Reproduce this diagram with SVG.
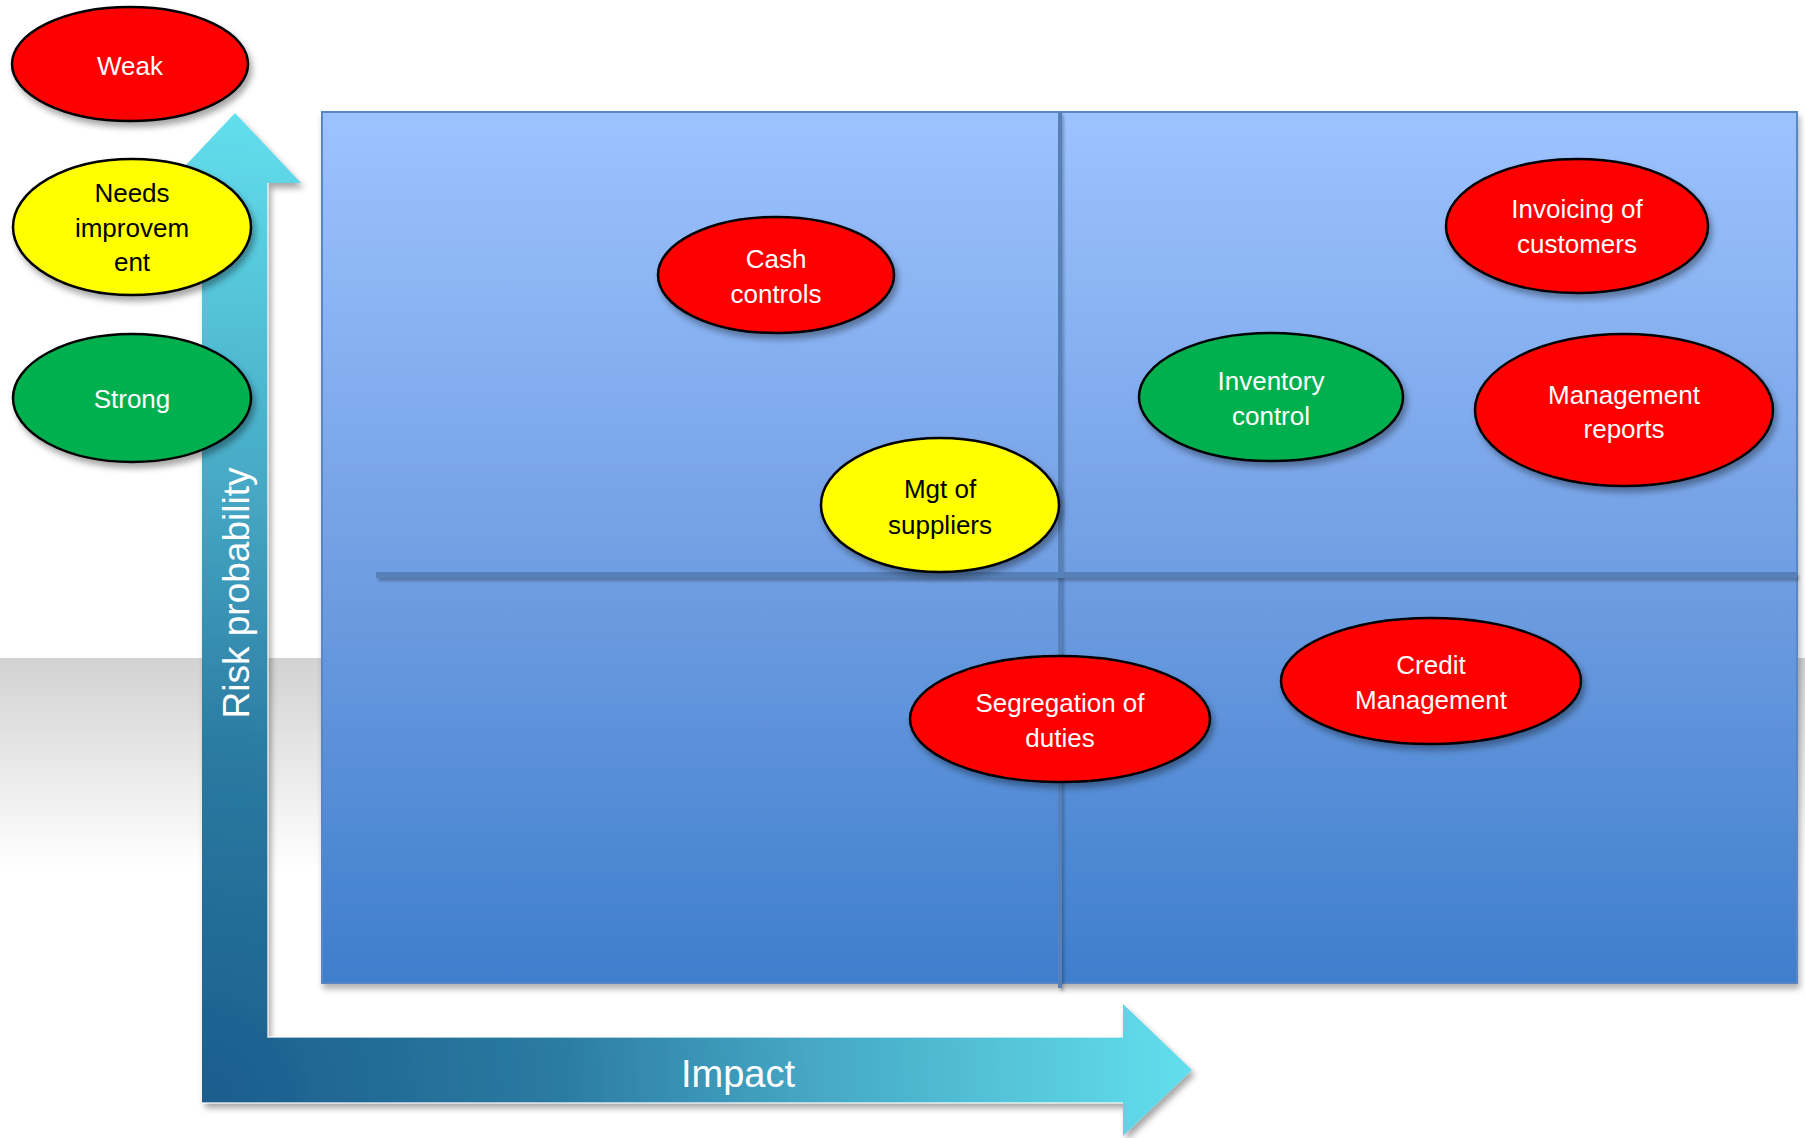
<svg xmlns="http://www.w3.org/2000/svg" width="1805" height="1138" viewBox="0 0 1805 1138">
<style>
.lbl{font-family:"Liberation Sans","Open Sans",Arial,sans-serif;font-size:26px;text-anchor:middle;fill:#ffffff}
.dark{fill:#000000}
.node ellipse{stroke:#000000;stroke-width:2.5;filter:url(#sh)}
.red{fill:#ff0000}
.yel{fill:#ffff00}
.grn{fill:#00b050}
.axis{font-family:"Liberation Sans","Open Sans",Arial,sans-serif;fill:#ffffff;text-anchor:middle}
.div{fill:#5780b7;filter:url(#sh3)}
</style>
<defs>
<linearGradient id="bg" x1="0" y1="658" x2="0" y2="870" gradientUnits="userSpaceOnUse">
<stop offset="0" stop-color="#d2d2d2"/>
<stop offset="1" stop-color="#ffffff"/>
</linearGradient>
<linearGradient id="quad" x1="0" y1="112" x2="0" y2="983" gradientUnits="userSpaceOnUse">
<stop offset="0" stop-color="#9dc3ff"/>
<stop offset="0.5" stop-color="#73a0e4"/>
<stop offset="1" stop-color="#3e7ecc"/>
</linearGradient>
<radialGradient id="arr" cx="202" cy="1103" r="1000" gradientUnits="userSpaceOnUse">
<stop offset="0" stop-color="#1b5d8d"/>
<stop offset="0.35" stop-color="#2a7aa1"/>
<stop offset="0.6" stop-color="#45a6c3"/>
<stop offset="1" stop-color="#63e0ee"/>
</radialGradient>
<filter id="sh" x="-20%" y="-20%" width="150%" height="150%">
<feDropShadow dx="3" dy="5" stdDeviation="3" flood-color="#000000" flood-opacity="0.35"/>
</filter>
<filter id="sh2" x="-5%" y="-5%" width="110%" height="115%">
<feDropShadow dx="2" dy="5" stdDeviation="3" flood-color="#000000" flood-opacity="0.3"/>
</filter>
<filter id="sh3" filterUnits="userSpaceOnUse" x="0" y="0" width="1805" height="1138">
<feDropShadow dx="2" dy="3" stdDeviation="1.5" flood-color="#000000" flood-opacity="0.25"/>
</filter>
</defs>
<rect x="0" y="0" width="1805" height="1138" fill="#ffffff"/>
<rect x="0" y="658" width="1805" height="480" fill="url(#bg)"/>
<g id="quadrant">
<rect x="322" y="112" width="1475" height="871" fill="url(#quad)" stroke="#5a86c4" stroke-width="2" filter="url(#sh2)"/>
</g>
<g id="connectors">
<rect class="div" x="1058" y="112" width="4" height="876"/>
<rect class="div" x="376" y="572" width="1421" height="6"/>
</g>
<g id="axes">
<path d="M202,1103 L202,183 L169,183 L235,113 L301,183 L268,183 L268,1037 L1123,1037 L1123,1004 L1192,1070 L1123,1136 L1123,1103 Z" fill="url(#arr)" filter="url(#sh)"/>
<path d="M268,183 L268,1037 L1123,1037" fill="none" stroke="#ffffff" stroke-opacity="0.6" stroke-width="2"/>
<path d="M202,1103 L1123,1103" fill="none" stroke="#ffffff" stroke-opacity="0.6" stroke-width="2"/>
<text class="axis" font-size="37" transform="translate(249,593) rotate(-90)">Risk probability</text>
<text class="axis" font-size="38" x="738" y="1087">Impact</text>
</g>
<g id="legend-weak" class="node">
<ellipse class="red" cx="130" cy="64" rx="118" ry="57"/>
<text class="lbl" x="130" y="75">Weak</text>
</g>
<g id="legend-needs" class="node">
<ellipse class="yel" cx="132" cy="227" rx="119" ry="68"/>
<text class="lbl dark" x="132" y="202">Needs</text>
<text class="lbl dark" x="132" y="237">improvem</text>
<text class="lbl dark" x="132" y="271">ent</text>
</g>
<g id="legend-strong" class="node">
<ellipse class="grn" cx="132" cy="398" rx="119" ry="64"/>
<text class="lbl" x="132" y="408">Strong</text>
</g>
<g id="cash" class="node">
<ellipse class="red" cx="776" cy="275" rx="118" ry="58"/>
<text class="lbl" x="776" y="268">Cash</text>
<text class="lbl" x="776" y="303">controls</text>
</g>
<g id="suppliers" class="node">
<ellipse class="yel" cx="940" cy="505" rx="119" ry="67"/>
<text class="lbl dark" x="940" y="498">Mgt of</text>
<text class="lbl dark" x="940" y="534">suppliers</text>
</g>
<g id="invoicing" class="node">
<ellipse class="red" cx="1577" cy="226" rx="131" ry="67"/>
<text class="lbl" x="1577" y="218">Invoicing of</text>
<text class="lbl" x="1577" y="253">customers</text>
</g>
<g id="inventory" class="node">
<ellipse class="grn" cx="1271" cy="397" rx="132" ry="64"/>
<text class="lbl" x="1271" y="390">Inventory</text>
<text class="lbl" x="1271" y="425">control</text>
</g>
<g id="mgmt-reports" class="node">
<ellipse class="red" cx="1624" cy="410" rx="149" ry="76"/>
<text class="lbl" x="1624" y="404">Management</text>
<text class="lbl" x="1624" y="438">reports</text>
</g>
<g id="segregation" class="node">
<ellipse class="red" cx="1060" cy="719" rx="150" ry="63"/>
<text class="lbl" x="1060" y="712">Segregation of</text>
<text class="lbl" x="1060" y="747">duties</text>
</g>
<g id="credit" class="node">
<ellipse class="red" cx="1431" cy="681" rx="150" ry="63"/>
<text class="lbl" x="1431" y="674">Credit</text>
<text class="lbl" x="1431" y="709">Management</text>
</g>
</svg>
